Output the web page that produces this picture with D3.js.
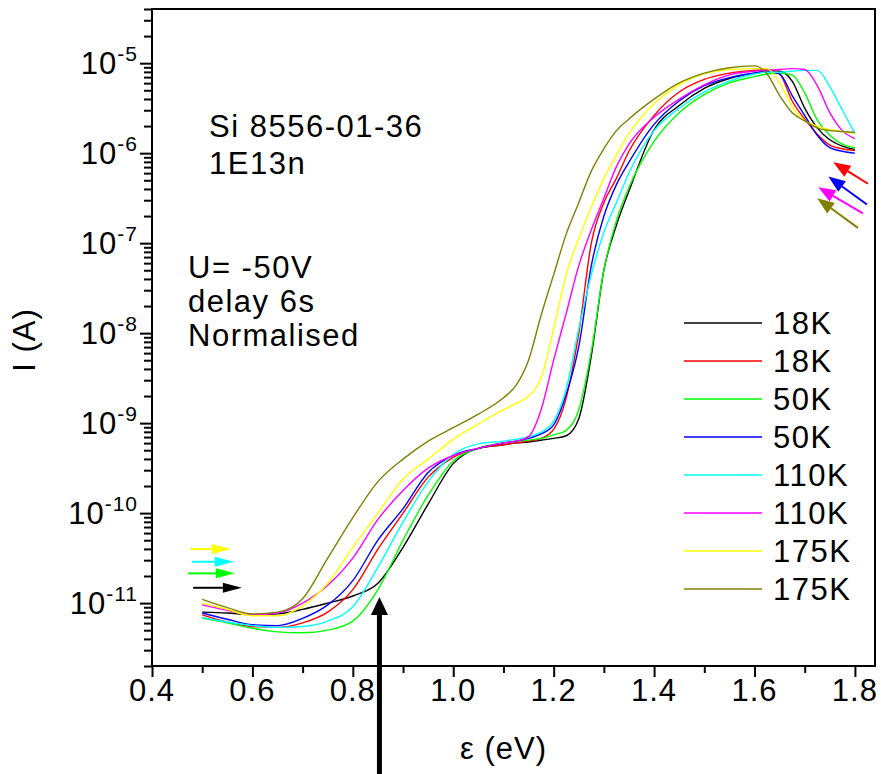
<!DOCTYPE html>
<html>
<head>
<meta charset="utf-8">
<script src="https://cdn.jsdelivr.net/npm/d3@7"></script>
<style>
  body { margin: 0; background: #fff; }
  svg { display: block; }
  text { font-family: Arial, "Liberation Sans", sans-serif; fill: #000; }
</style>
</head>
<body>
<svg id="chart" width="881" height="774"></svg>
<script>
// photon energy grid (eV)
const energy = [0.5, 0.55, 0.6, 0.65, 0.7, 0.75, 0.8, 0.85, 0.9, 0.95, 1.0, 1.05, 1.1,
  1.125, 1.15, 1.175, 1.2, 1.225, 1.25, 1.275, 1.3, 1.325, 1.35,
  1.4, 1.45, 1.5, 1.55, 1.6,
  1.625, 1.65, 1.675, 1.7, 1.725, 1.75, 1.775, 1.8];

// current (A), one array per scan
const black18K = [7.94e-12, 7.76e-12, 7.41e-12, 7.59e-12, 8.51e-12, 1.0e-11, 1.2e-11, 1.66e-11, 4.17e-11, 1.26e-10, 3.55e-10, 5.25e-10, 5.75e-10,
  6.03e-10, 6.17e-10, 6.46e-10, 6.76e-10, 7.24e-10, 1.12e-9, 5.62e-9, 5.01e-8, 1.58e-7, 3.8e-7,
  1.82e-6, 3.39e-6, 5.25e-6, 6.76e-6, 7.76e-6,
  8.13e-6, 8.13e-6, 6.31e-6, 3.16e-6, 1.91e-6, 1.41e-6, 1.2e-6, 1.1e-6];
const red18K = [7.41e-12, 6.17e-12, 5.5e-12, 5.37e-12, 6.03e-12, 7.94e-12, 1.41e-11, 3.98e-11, 1.0e-10, 2.51e-10, 4.17e-10, 5.25e-10, 5.75e-10,
  6.03e-10, 6.31e-10, 6.76e-10, 8.51e-10, 1.91e-9, 1.0e-8, 1.0e-7, 2.82e-7, 5.25e-7, 1.05e-6,
  2.63e-6, 4.79e-6, 6.61e-6, 7.76e-6, 8.32e-6,
  8.51e-6, 7.59e-6, 3.8e-6, 2.4e-6, 1.62e-6, 1.23e-6, 1.12e-6, 1.07e-6];
const green50K = [6.76e-12, 6.03e-12, 5.25e-12, 4.79e-12, 4.68e-12, 5.01e-12, 6.31e-12, 1.41e-11, 5.01e-11, 1.58e-10, 3.8e-10, 5.25e-10, 6.03e-10,
  6.31e-10, 6.46e-10, 6.76e-10, 7.41e-10, 8.32e-10, 1.41e-9, 6.31e-9, 5.01e-8, 1.78e-7, 4.17e-7,
  1.35e-6, 2.82e-6, 4.47e-6, 6.03e-6, 7.08e-6,
  7.59e-6, 7.76e-6, 7.41e-6, 4.68e-6, 2.34e-6, 1.58e-6, 1.26e-6, 1.15e-6];
const blue50K = [7.76e-12, 6.61e-12, 5.75e-12, 5.62e-12, 6.76e-12, 9.55e-12, 1.78e-11, 5.01e-11, 1.12e-10, 2.82e-10, 4.37e-10, 5.25e-10, 6.03e-10,
  6.31e-10, 6.76e-10, 7.59e-10, 9.55e-10, 2.09e-9, 7.08e-9, 5.62e-8, 2.0e-7, 4.47e-7, 7.94e-7,
  2.09e-6, 3.8e-6, 5.62e-6, 6.92e-6, 7.76e-6,
  8.13e-6, 7.59e-6, 4.37e-6, 2.63e-6, 1.58e-6, 1.15e-6, 1.05e-6, 1.0e-6];
const cyan110K = [6.92e-12, 6.17e-12, 5.62e-12, 5.37e-12, 5.5e-12, 6.31e-12, 9.12e-12, 2.51e-11, 7.94e-11, 2.24e-10, 4.47e-10, 5.89e-10, 6.31e-10,
  6.61e-10, 7.08e-10, 7.94e-10, 1.05e-9, 2.4e-9, 1.12e-8, 4.47e-8, 1.32e-7, 2.82e-7, 6.03e-7,
  1.78e-6, 3.16e-6, 4.79e-6, 6.31e-6, 7.59e-6,
  7.94e-6, 7.94e-6, 8.13e-6, 8.32e-6, 8.32e-6, 5.5e-6, 3.02e-6, 1.66e-6];
const magenta110K = [9.55e-12, 8.32e-12, 7.41e-12, 7.76e-12, 1.0e-11, 1.58e-11, 3.16e-11, 8.51e-11, 1.78e-10, 3.16e-10, 4.37e-10, 5.25e-10, 6.03e-10,
  6.31e-10, 7.08e-10, 1.41e-9, 5.01e-9, 1.66e-8, 5.62e-8, 1.41e-7, 3.16e-7, 7.08e-7, 1.26e-6,
  2.51e-6, 3.98e-6, 5.75e-6, 7.41e-6, 8.13e-6,
  8.32e-6, 8.51e-6, 8.71e-6, 8.51e-6, 5.62e-6, 2.82e-6, 1.78e-6, 1.45e-6];
const yellow175K = [1.0e-11, 8.51e-12, 7.24e-12, 7.24e-12, 9.33e-12, 1.66e-11, 4.17e-11, 1.0e-10, 2.4e-10, 3.98e-10, 6.61e-10, 9.77e-10, 1.41e-9,
  1.66e-9, 2.0e-9, 3.16e-9, 1.12e-8, 4.47e-8, 1.12e-7, 2.51e-7, 5.25e-7, 9.55e-7, 1.66e-6,
  3.55e-6, 5.75e-6, 7.59e-6, 8.51e-6, 8.71e-6,
  8.71e-6, 6.03e-6, 3.31e-6, 2.29e-6, 2.0e-6, 1.82e-6, 1.74e-6, 1.66e-6];
const olive175K = [1.1e-11, 8.91e-12, 7.59e-12, 7.94e-12, 1.12e-11, 3.16e-11, 8.91e-11, 2.24e-10, 3.98e-10, 6.31e-10, 8.91e-10, 1.26e-9, 1.91e-9,
  2.63e-9, 5.01e-9, 1.58e-8, 4.47e-8, 1.26e-7, 2.82e-7, 6.31e-7, 1.12e-6, 1.78e-6, 2.4e-6,
  3.98e-6, 6.03e-6, 7.76e-6, 8.91e-6, 9.33e-6,
  7.59e-6, 4.37e-6, 2.82e-6, 2.29e-6, 1.91e-6, 1.78e-6, 1.74e-6, 1.7e-6];

const seriesValues = [black18K, red18K, green50K, blue50K, cyan110K, magenta110K, yellow175K, olive175K];
const seriesNames = ['18K', '18K', '50K', '50K', '110K', '110K', '175K', '175K'];
const seriesColors = ['#000000', '#ff0000', '#00ff00', '#0000ff', '#00ffff', '#ff00ff', '#ffff00', '#808000'];

const xTicks = [0.4, 0.6, 0.8, 1.0, 1.2, 1.4, 1.6, 1.8];
const xMinorTicks = [0.5, 0.7, 0.9, 1.1, 1.3, 1.5, 1.7];
const yTickExponents = [-11, -10, -9, -8, -7, -6, -5];

const sampleNotes = ['Si 8556-01-36', '1E13n'];
const runNotes = ['U= -50V', 'delay 6s', 'Normalised'];

// arrows pointing at curve ends: [energy, current]
const leftArrows = [
  {color: '#ffff00', from: [0.476, 3.98e-11], to: [0.557, 3.98e-11]},
  {color: '#00ffff', from: [0.48, 2.88e-11], to: [0.563, 2.88e-11]},
  {color: '#00ff00', from: [0.472, 2.14e-11], to: [0.565, 2.14e-11]},
  {color: '#000000', from: [0.482, 1.48e-11], to: [0.579, 1.48e-11]}
];
const rightArrows = [
  {color: '#ff0000', from: [1.826, 4.57e-7], to: [1.757, 7.94e-7]},
  {color: '#0000ff', from: [1.824, 2.69e-7], to: [1.747, 5.5e-7]},
  {color: '#ff00ff', from: [1.816, 2.14e-7], to: [1.727, 4.17e-7]},
  {color: '#808000', from: [1.806, 1.48e-7], to: [1.725, 3.16e-7]}
];
const markerEnergy = 0.853;
const markerCurrent = 1.17e-11;

const svg = d3.select('#chart');
const margin = {top: 9, right: 6, bottom: 108, left: 152};
const width = 881 - margin.left - margin.right;
const height = 774 - margin.top - margin.bottom;
const g = svg.append('g').attr('transform', `translate(${margin.left},${margin.top})`);

const xScale = d3.scaleLinear().domain([0.4, 1.84]).range([0, width]);
const yScale = d3.scaleLog().domain([2e-12, 4e-5]).range([height, 0]);

/* X AXIS */
const xAxis = g.append('g').attr('transform', `translate(0,${height})`);
xAxis.call(d3.axisBottom(xScale).tickValues(xTicks).tickSize(11).tickFormat(''));
xAxis.append('g').call(d3.axisBottom(xScale).tickValues(xMinorTicks).tickSize(7).tickFormat(''));
xAxis.selectAll('.domain').remove();
xAxis.selectAll('line').attr('stroke', '#000').attr('stroke-width', 2);
xAxis.selectAll('.xlab')
  .data(xTicks)
  .enter()
  .append('text')
  .attr('x', d => xScale(d))
  .attr('y', 35)
  .attr('text-anchor', 'middle')
  .style('font-size', '31px')
  .style('letter-spacing', '1px')
  .text(d => d.toFixed(1));

/* Y AXIS */
const yMinor = [];
yTickExponents.concat([-12]).forEach(p => {
  for (let m = 2; m <= 9; m++) {
    const v = m * Math.pow(10, p);
    if (v >= 2e-12 && v <= 4e-5) yMinor.push(v);
  }
});
const yAxis = g.append('g');
yAxis.call(d3.axisLeft(yScale).tickValues(yTickExponents.map(p => Math.pow(10, p))).tickSize(12).tickFormat(''));
yAxis.append('g').call(d3.axisLeft(yScale).tickValues(yMinor).tickSize(8).tickFormat(''));
yAxis.selectAll('.domain').remove();
yAxis.selectAll('line').attr('stroke', '#000').attr('stroke-width', 2);

const ylab = yAxis.selectAll('.ylab')
  .data(yTickExponents)
  .enter()
  .append('text')
  .attr('x', -14)
  .attr('y', d => yScale(Math.pow(10, d)) + 11)
  .attr('text-anchor', 'end')
  .style('font-size', '31px')
  .style('letter-spacing', '1px');
ylab.append('tspan').text('10');
ylab.append('tspan').attr('dy', -13).style('font-size', '21px').text(d => '-' + Math.abs(d));

/* FRAME */
g.append('rect')
  .attr('width', width)
  .attr('height', height)
  .attr('fill', 'none')
  .attr('stroke', '#000')
  .attr('stroke-width', 2);

/* AXIS TITLES */
svg.append('text')
  .attr('transform', 'translate(35,340) rotate(-90)')
  .attr('text-anchor', 'middle')
  .style('font-size', '31px')
  .style('letter-spacing', '1px')
  .text('I (A)');
svg.append('text')
  .attr('x', margin.left + xScale(1.1))
  .attr('y', 759)
  .attr('text-anchor', 'middle')
  .style('font-size', '31px')
  .style('letter-spacing', '1px')
  .text('\u03b5 (eV)');

/* CURVES */
const line = d3.line()
  .x(d => xScale(d[0]))
  .y(d => yScale(d[1]))
  .curve(d3.curveMonotoneX);

seriesValues.forEach((vals, i) => {
  g.append('path')
    .datum(energy.map((e, k) => [e, vals[k]]))
    .attr('fill', 'none')
    .attr('stroke', seriesColors[i])
    .attr('stroke-width', 1.4)
    .attr('d', line);
});

/* LEGEND */
const legend = g.append('g').attr('transform', `translate(${684 - margin.left},${323 - margin.top})`);
seriesNames.forEach((name, i) => {
  legend.append('line')
    .attr('x1', 0).attr('x2', 78)
    .attr('y1', i * 38).attr('y2', i * 38)
    .attr('stroke', seriesColors[i])
    .attr('stroke-width', 1.5);
  legend.append('text')
    .attr('x', 89)
    .attr('y', i * 38 + 11)
    .style('font-size', '31px')
    .style('letter-spacing', '1.5px')
    .text(name);
});

/* NOTES */
sampleNotes.forEach((t, i) => {
  g.append('text')
    .attr('x', 209 - margin.left)
    .attr('y', 137 + i * 37 - margin.top)
    .style('font-size', '31px')
    .style('letter-spacing', '1.5px')
    .text(t);
});
runNotes.forEach((t, i) => {
  g.append('text')
    .attr('x', 188 - margin.left)
    .attr('y', 278 + i * 34 - margin.top)
    .style('font-size', '31px')
    .style('letter-spacing', '1.5px')
    .text(t);
});

/* ARROWS */
function arrow(parent, x0, y0, x1, y1, color, headLen, headW, lw) {
  const ang = Math.atan2(y1 - y0, x1 - x0);
  const bx = x1 - headLen * Math.cos(ang);
  const by = y1 - headLen * Math.sin(ang);
  parent.append('line')
    .attr('x1', x0).attr('y1', y0).attr('x2', bx).attr('y2', by)
    .attr('stroke', color).attr('stroke-width', lw);
  const px = Math.sin(ang) * headW / 2, py = -Math.cos(ang) * headW / 2;
  parent.append('path')
    .attr('d', `M${x1},${y1}L${bx + px},${by + py}L${bx - px},${by - py}Z`)
    .attr('fill', color);
}

leftArrows.forEach(a => {
  arrow(g, xScale(a.from[0]), yScale(a.from[1]), xScale(a.to[0]), yScale(a.to[1]), a.color, 19, 10, 2);
});
rightArrows.forEach(a => {
  arrow(g, xScale(a.from[0]), yScale(a.from[1]), xScale(a.to[0]), yScale(a.to[1]), a.color, 17, 13, 2);
});

arrow(g, xScale(markerEnergy), 774 - margin.top, xScale(markerEnergy), yScale(markerCurrent), '#000', 18, 17, 5);
</script>
</body>
</html>
